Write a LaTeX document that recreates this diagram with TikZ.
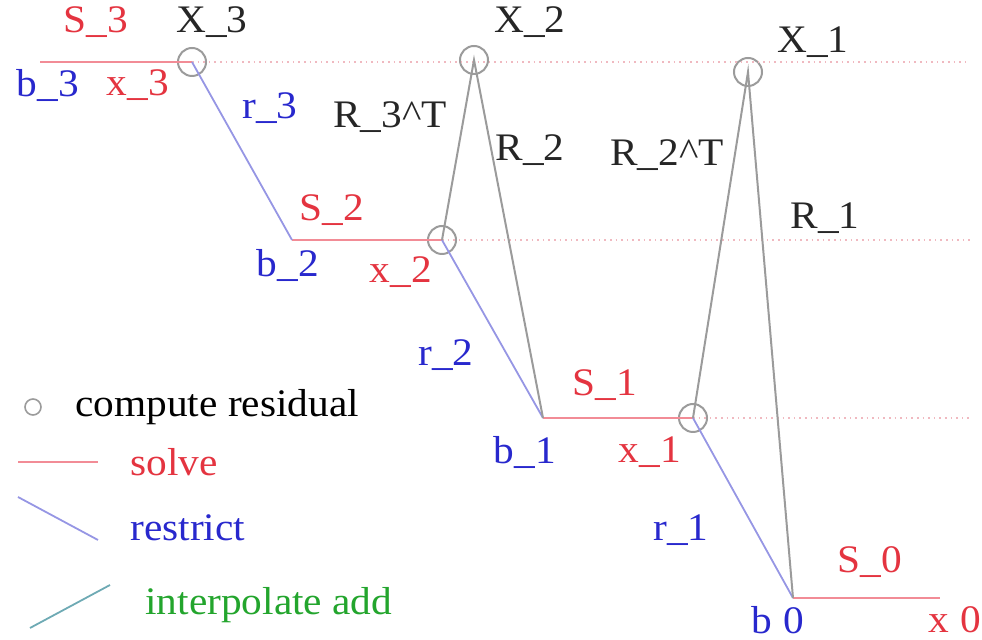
\documentclass[tikz,border=0pt]{standalone}
\usepackage{fontspec}
\setmainfont{Liberation Serif}[FakeStretch=1.06]
\definecolor{txtred}{RGB}{228,52,64}
\definecolor{linered}{RGB}{242,140,150}
\definecolor{dotred}{RGB}{240,185,192}
\definecolor{txtblue}{RGB}{40,40,205}
\definecolor{lineblue}{RGB}{150,150,228}
\definecolor{linegray}{RGB}{155,155,155}
\definecolor{txtgreen}{RGB}{35,165,45}
\definecolor{lineteal}{RGB}{110,170,180}

\begin{document}
\begin{tikzpicture}[
    x=0.5pt, y=-0.5pt,
    every node/.style={font=\fontsize{19.5}{22}\selectfont, inner sep=0pt},
    residual/.style={circle, draw=linegray, line width=1pt, minimum size=14pt},
    solveline/.style={draw=linered, line width=1.1pt},
    restrictline/.style={draw=lineblue, line width=0.9pt},
    prolongline/.style={draw=linegray, line width=1pt},
    levelline/.style={draw=dotred, dotted, line width=0.8pt},
    solvetxt/.style={text=txtred},
    restricttxt/.style={text=txtblue},
    optxt/.style={text=black!85}
]
\useasboundingbox (0,0) rectangle (982,640);

% grid levels
\node[residual] (c3) at (192,62) {};
\node[residual] (c2) at (442,240) {};
\node[residual] (c1) at (693,418) {};
\node[residual] (cx2) at (474,60) {};
\node[residual] (cx1) at (748,72) {};
\coordinate (b3) at (40,62);
\coordinate (b2) at (292,240);
\coordinate (b1) at (543,418);
\coordinate (b0) at (793,598);
\coordinate (x0) at (940,598);
\coordinate (e3) at (970,62);
\coordinate (e2) at (970,240);
\coordinate (e1) at (970,418);

\draw[levelline] (c3.center) -- (e3);
\draw[levelline] (c2.center) -- (e2);
\draw[levelline] (c1.center) -- (e1);

\draw[solveline] (b3) -- (c3.center);
\draw[solveline] (b2) -- (c2.center);
\draw[solveline] (b1) -- (c1.center);
\draw[solveline] (b0) -- (x0);

\draw[restrictline] (c3.center) -- (b2);
\draw[restrictline] (c2.center) -- (b1);
\draw[restrictline] (c1.center) -- (b0);

\draw[prolongline] (c2.center) -- (cx2.center) -- (b1);
\draw[prolongline] (c1.center) -- (cx1.center) -- (b0);

% labels
\node[solvetxt] (s3) at (96,22) {S\_3};
\node[optxt] (lx3) at (212,22) {X\_3};
\node[restricttxt] (lb3) at (48,85) {b\_3};
\node[solvetxt] (lx3s) at (138,85) {x\_3};
\node[restricttxt] (r3) at (270,108) {r\_3};
\node[optxt] (lx2) at (530,22) {X\_2};
\node[optxt] (rt3) at (390,117) {R\_3\textasciicircum T};
\node[optxt] (rr2) at (530,150) {R\_2};
\node[solvetxt] (s2) at (332,210) {S\_2};
\node[restricttxt] (lb2) at (288,265) {b\_2};
\node[solvetxt] (lx2s) at (401,272) {x\_2};
\node[optxt] (rt2) at (667,155) {R\_2\textasciicircum T};
\node[optxt] (lx1) at (813,42) {X\_1};
\node[optxt] (rr1) at (825,218) {R\_1};
\node[restricttxt] (r2) at (446,355) {r\_2};
\node[solvetxt] (s1) at (605,385) {S\_1};
\node[restricttxt] (lb1) at (525,452) {b\_1};
\node[solvetxt] (lx1s) at (650,452) {x\_1};
\node[restricttxt] (r1) at (681,530) {r\_1};
\node[solvetxt] (s0) at (870,562) {S\_0};
\node[restricttxt] (lb0) at (778,620) {b\hspace{6pt}0};
\node[solvetxt, anchor=east] (lx0s) at (982,620) {x\hspace{6pt}0};

% legend
\node[circle, draw=linegray, line width=0.8pt, minimum size=8pt] (kres) at (33,407) {};
\node[anchor=west] (krestxt) at (75,407) {compute residual};
\coordinate (ks1) at (18,462);
\coordinate (ks2) at (98,462);
\draw[solveline] (ks1) -- (ks2);
\node[solvetxt, anchor=west] (ksolve) at (130,462) {solve};
\coordinate (kr1) at (18,497);
\coordinate (kr2) at (98,540);
\draw[restrictline] (kr1) -- (kr2);
\node[restricttxt, anchor=west] (krestrict) at (130,528) {restrict};
\coordinate (ki1) at (30,628);
\coordinate (ki2) at (110,585);
\draw[draw=lineteal, line width=0.9pt] (ki1) -- (ki2);
\node[text=txtgreen, anchor=west] (kinterp) at (145,605) {interpolate add};

\end{tikzpicture}
\end{document}
